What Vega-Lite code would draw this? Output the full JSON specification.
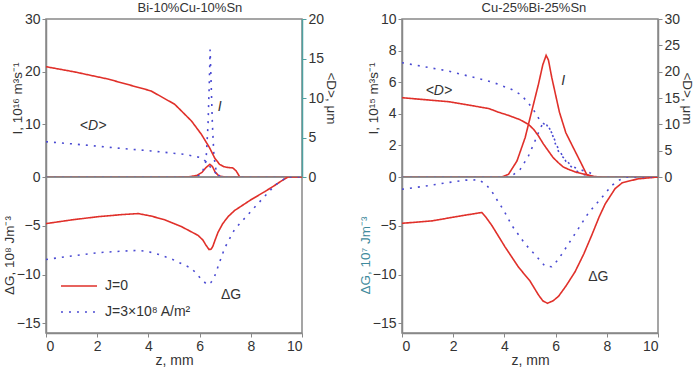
{
  "$schema": "https://vega.github.io/schema/vega-lite/v6.json",
  "padding": {"left": 1, "top": 2, "right": 1, "bottom": 1},
  "datasets": {
    "curves": [
      {"p":"L","q":"I","J":"J=0","z":0,"v":0},{"p":"L","q":"I","J":"J=0","z":5.0,"v":0},{"p":"L","q":"I","J":"J=0","z":5.6,"v":0.05},{"p":"L","q":"I","J":"J=0","z":5.9,"v":0.3},{"p":"L","q":"I","J":"J=0","z":6.1,"v":0.9},{"p":"L","q":"I","J":"J=0","z":6.25,"v":1.8},{"p":"L","q":"I","J":"J=0","z":6.4,"v":2.4},{"p":"L","q":"I","J":"J=0","z":6.5,"v":2.0},{"p":"L","q":"I","J":"J=0","z":6.6,"v":1.0},{"p":"L","q":"I","J":"J=0","z":6.75,"v":0.2},{"p":"L","q":"I","J":"J=0","z":7.0,"v":0},{"p":"L","q":"I","J":"J=0","z":10,"v":0},
      {"p":"L","q":"I","J":"J=3×10⁸ A/m²","z":0,"v":0},{"p":"L","q":"I","J":"J=3×10⁸ A/m²","z":5.9,"v":0},{"p":"L","q":"I","J":"J=3×10⁸ A/m²","z":6.1,"v":0.8},{"p":"L","q":"I","J":"J=3×10⁸ A/m²","z":6.25,"v":3},{"p":"L","q":"I","J":"J=3×10⁸ A/m²","z":6.33,"v":10},{"p":"L","q":"I","J":"J=3×10⁸ A/m²","z":6.38,"v":18},{"p":"L","q":"I","J":"J=3×10⁸ A/m²","z":6.41,"v":24.2},{"p":"L","q":"I","J":"J=3×10⁸ A/m²","z":6.45,"v":18},{"p":"L","q":"I","J":"J=3×10⁸ A/m²","z":6.5,"v":10},{"p":"L","q":"I","J":"J=3×10⁸ A/m²","z":6.56,"v":4},{"p":"L","q":"I","J":"J=3×10⁸ A/m²","z":6.65,"v":1},{"p":"L","q":"I","J":"J=3×10⁸ A/m²","z":6.8,"v":0},{"p":"L","q":"I","J":"J=3×10⁸ A/m²","z":10,"v":0},
      {"p":"L","q":"D","J":"J=0","z":0,"v":13.96},{"p":"L","q":"D","J":"J=0","z":1.12,"v":13.3},{"p":"L","q":"D","J":"J=0","z":2.42,"v":12.4},{"p":"L","q":"D","J":"J=0","z":4.1,"v":10.9},{"p":"L","q":"D","J":"J=0","z":5.03,"v":9.2},{"p":"L","q":"D","J":"J=0","z":5.68,"v":7.1},{"p":"L","q":"D","J":"J=0","z":6.07,"v":5.4},{"p":"L","q":"D","J":"J=0","z":6.39,"v":3.7},{"p":"L","q":"D","J":"J=0","z":6.59,"v":2.4},{"p":"L","q":"D","J":"J=0","z":6.78,"v":1.6},{"p":"L","q":"D","J":"J=0","z":6.95,"v":1.3},{"p":"L","q":"D","J":"J=0","z":7.11,"v":1.2},{"p":"L","q":"D","J":"J=0","z":7.3,"v":1.15},{"p":"L","q":"D","J":"J=0","z":7.43,"v":0.76},{"p":"L","q":"D","J":"J=0","z":7.57,"v":0},
      {"p":"L","q":"D","J":"J=3×10⁸ A/m²","z":0,"v":4.47},{"p":"L","q":"D","J":"J=3×10⁸ A/m²","z":1,"v":4.2},{"p":"L","q":"D","J":"J=3×10⁸ A/m²","z":2,"v":3.9},{"p":"L","q":"D","J":"J=3×10⁸ A/m²","z":3,"v":3.6},{"p":"L","q":"D","J":"J=3×10⁸ A/m²","z":4.1,"v":3.3},{"p":"L","q":"D","J":"J=3×10⁸ A/m²","z":5.4,"v":2.87},{"p":"L","q":"D","J":"J=3×10⁸ A/m²","z":6.07,"v":2.44},{"p":"L","q":"D","J":"J=3×10⁸ A/m²","z":6.3,"v":1.8},{"p":"L","q":"D","J":"J=3×10⁸ A/m²","z":6.5,"v":0.9},{"p":"L","q":"D","J":"J=3×10⁸ A/m²","z":6.7,"v":0.3},{"p":"L","q":"D","J":"J=3×10⁸ A/m²","z":6.9,"v":0},
      {"p":"L","q":"G","J":"J=0","z":0,"v":-4.78},{"p":"L","q":"G","J":"J=0","z":1,"v":-4.4},{"p":"L","q":"G","J":"J=0","z":2.03,"v":-4.07},{"p":"L","q":"G","J":"J=0","z":3,"v":-3.85},{"p":"L","q":"G","J":"J=0","z":3.6,"v":-3.75},{"p":"L","q":"G","J":"J=0","z":4.1,"v":-4.0},{"p":"L","q":"G","J":"J=0","z":4.64,"v":-4.39},{"p":"L","q":"G","J":"J=0","z":5.3,"v":-5.1},{"p":"L","q":"G","J":"J=0","z":5.94,"v":-5.99},{"p":"L","q":"G","J":"J=0","z":6.13,"v":-6.47},{"p":"L","q":"G","J":"J=0","z":6.25,"v":-7.0},{"p":"L","q":"G","J":"J=0","z":6.37,"v":-7.44},{"p":"L","q":"G","J":"J=0","z":6.45,"v":-7.4},{"p":"L","q":"G","J":"J=0","z":6.52,"v":-7.1},{"p":"L","q":"G","J":"J=0","z":6.6,"v":-6.5},{"p":"L","q":"G","J":"J=0","z":6.72,"v":-5.67},{"p":"L","q":"G","J":"J=0","z":6.9,"v":-4.8},{"p":"L","q":"G","J":"J=0","z":7.11,"v":-4.07},{"p":"L","q":"G","J":"J=0","z":7.37,"v":-3.43},{"p":"L","q":"G","J":"J=0","z":8.02,"v":-2.31},{"p":"L","q":"G","J":"J=0","z":8.54,"v":-1.51},{"p":"L","q":"G","J":"J=0","z":8.93,"v":-0.87},{"p":"L","q":"G","J":"J=0","z":9.2,"v":-0.4},{"p":"L","q":"G","J":"J=0","z":9.45,"v":0},{"p":"L","q":"G","J":"J=0","z":10,"v":0},
      {"p":"L","q":"G","J":"J=3×10⁸ A/m²","z":0,"v":-8.46},{"p":"L","q":"G","J":"J=3×10⁸ A/m²","z":1,"v":-8.1},{"p":"L","q":"G","J":"J=3×10⁸ A/m²","z":2.03,"v":-7.76},{"p":"L","q":"G","J":"J=3×10⁸ A/m²","z":3,"v":-7.6},{"p":"L","q":"G","J":"J=3×10⁸ A/m²","z":3.6,"v":-7.53},{"p":"L","q":"G","J":"J=3×10⁸ A/m²","z":4.0,"v":-7.65},{"p":"L","q":"G","J":"J=3×10⁸ A/m²","z":4.37,"v":-7.92},{"p":"L","q":"G","J":"J=3×10⁸ A/m²","z":4.9,"v":-8.4},{"p":"L","q":"G","J":"J=3×10⁸ A/m²","z":5.3,"v":-8.9},{"p":"L","q":"G","J":"J=3×10⁸ A/m²","z":5.68,"v":-9.36},{"p":"L","q":"G","J":"J=3×10⁸ A/m²","z":6.07,"v":-10.48},{"p":"L","q":"G","J":"J=3×10⁸ A/m²","z":6.3,"v":-11.06},{"p":"L","q":"G","J":"J=3×10⁸ A/m²","z":6.45,"v":-10.8},{"p":"L","q":"G","J":"J=3×10⁸ A/m²","z":6.59,"v":-10.16},{"p":"L","q":"G","J":"J=3×10⁸ A/m²","z":6.8,"v":-8.6},{"p":"L","q":"G","J":"J=3×10⁸ A/m²","z":6.98,"v":-7.28},{"p":"L","q":"G","J":"J=3×10⁸ A/m²","z":7.37,"v":-5.36},{"p":"L","q":"G","J":"J=3×10⁸ A/m²","z":7.76,"v":-4.23},{"p":"L","q":"G","J":"J=3×10⁸ A/m²","z":8.15,"v":-3.1},{"p":"L","q":"G","J":"J=3×10⁸ A/m²","z":8.54,"v":-1.99},{"p":"L","q":"G","J":"J=3×10⁸ A/m²","z":8.93,"v":-0.87},{"p":"L","q":"G","J":"J=3×10⁸ A/m²","z":9.2,"v":-0.4},{"p":"L","q":"G","J":"J=3×10⁸ A/m²","z":9.4,"v":0},{"p":"L","q":"G","J":"J=3×10⁸ A/m²","z":10,"v":0},
      {"p":"R","q":"I","J":"J=0","z":0,"v":0},{"p":"R","q":"I","J":"J=0","z":3.9,"v":0},{"p":"R","q":"I","J":"J=0","z":4.16,"v":0.17},{"p":"R","q":"I","J":"J=0","z":4.49,"v":1.01},{"p":"R","q":"I","J":"J=0","z":4.81,"v":2.49},{"p":"R","q":"I","J":"J=0","z":5.07,"v":4.18},{"p":"R","q":"I","J":"J=0","z":5.33,"v":5.87},{"p":"R","q":"I","J":"J=0","z":5.5,"v":7.1},{"p":"R","q":"I","J":"J=0","z":5.63,"v":7.7},{"p":"R","q":"I","J":"J=0","z":5.72,"v":7.4},{"p":"R","q":"I","J":"J=0","z":5.85,"v":6.3},{"p":"R","q":"I","J":"J=0","z":6.15,"v":4.1},{"p":"R","q":"I","J":"J=0","z":6.4,"v":2.8},{"p":"R","q":"I","J":"J=0","z":6.69,"v":1.86},{"p":"R","q":"I","J":"J=0","z":7.02,"v":0.8},{"p":"R","q":"I","J":"J=0","z":7.21,"v":0.17},{"p":"R","q":"I","J":"J=0","z":7.4,"v":0},{"p":"R","q":"I","J":"J=0","z":10,"v":0},
      {"p":"R","q":"I","J":"J=3×10⁸ A/m²","z":0,"v":0},{"p":"R","q":"I","J":"J=3×10⁸ A/m²","z":4.1,"v":0},{"p":"R","q":"I","J":"J=3×10⁸ A/m²","z":4.29,"v":0.06},{"p":"R","q":"I","J":"J=3×10⁸ A/m²","z":4.62,"v":0.49},{"p":"R","q":"I","J":"J=3×10⁸ A/m²","z":4.94,"v":1.33},{"p":"R","q":"I","J":"J=3×10⁸ A/m²","z":5.14,"v":2.07},{"p":"R","q":"I","J":"J=3×10⁸ A/m²","z":5.33,"v":2.8},{"p":"R","q":"I","J":"J=3×10⁸ A/m²","z":5.5,"v":3.4},{"p":"R","q":"I","J":"J=3×10⁸ A/m²","z":5.65,"v":3.3},{"p":"R","q":"I","J":"J=3×10⁸ A/m²","z":5.85,"v":2.8},{"p":"R","q":"I","J":"J=3×10⁸ A/m²","z":6.1,"v":1.8},{"p":"R","q":"I","J":"J=3×10⁸ A/m²","z":6.4,"v":1.0},{"p":"R","q":"I","J":"J=3×10⁸ A/m²","z":6.7,"v":0.5},{"p":"R","q":"I","J":"J=3×10⁸ A/m²","z":7.0,"v":0.2},{"p":"R","q":"I","J":"J=3×10⁸ A/m²","z":7.4,"v":0.05},{"p":"R","q":"I","J":"J=3×10⁸ A/m²","z":7.6,"v":0},{"p":"R","q":"I","J":"J=3×10⁸ A/m²","z":10,"v":0},
      {"p":"R","q":"D","J":"J=0","z":0,"v":15.05},{"p":"R","q":"D","J":"J=0","z":1.83,"v":14.3},{"p":"R","q":"D","J":"J=0","z":3.39,"v":13.0},{"p":"R","q":"D","J":"J=0","z":3.77,"v":12.3},{"p":"R","q":"D","J":"J=0","z":4.16,"v":11.7},{"p":"R","q":"D","J":"J=0","z":4.6,"v":10.9},{"p":"R","q":"D","J":"J=0","z":4.94,"v":10.0},{"p":"R","q":"D","J":"J=0","z":5.15,"v":9.0},{"p":"R","q":"D","J":"J=0","z":5.33,"v":7.8},{"p":"R","q":"D","J":"J=0","z":5.52,"v":6.3},{"p":"R","q":"D","J":"J=0","z":5.72,"v":4.93},{"p":"R","q":"D","J":"J=0","z":5.9,"v":3.7},{"p":"R","q":"D","J":"J=0","z":6.11,"v":2.7},{"p":"R","q":"D","J":"J=0","z":6.3,"v":1.9},{"p":"R","q":"D","J":"J=0","z":6.5,"v":1.46},{"p":"R","q":"D","J":"J=0","z":6.8,"v":0.9},{"p":"R","q":"D","J":"J=0","z":7.15,"v":0.5},{"p":"R","q":"D","J":"J=0","z":7.5,"v":0.1},{"p":"R","q":"D","J":"J=0","z":7.8,"v":0},
      {"p":"R","q":"D","J":"J=3×10⁸ A/m²","z":0,"v":21.7},{"p":"R","q":"D","J":"J=3×10⁸ A/m²","z":1.83,"v":20.1},{"p":"R","q":"D","J":"J=3×10⁸ A/m²","z":3.39,"v":18.2},{"p":"R","q":"D","J":"J=3×10⁸ A/m²","z":3.77,"v":17.6},{"p":"R","q":"D","J":"J=3×10⁸ A/m²","z":4.29,"v":16.6},{"p":"R","q":"D","J":"J=3×10⁸ A/m²","z":4.62,"v":15.7},{"p":"R","q":"D","J":"J=3×10⁸ A/m²","z":4.88,"v":14.4},{"p":"R","q":"D","J":"J=3×10⁸ A/m²","z":5.07,"v":13.2},{"p":"R","q":"D","J":"J=3×10⁸ A/m²","z":5.24,"v":12.0},{"p":"R","q":"D","J":"J=3×10⁸ A/m²","z":5.4,"v":10.6},{"p":"R","q":"D","J":"J=3×10⁸ A/m²","z":5.6,"v":9.9},{"p":"R","q":"D","J":"J=3×10⁸ A/m²","z":5.72,"v":9.6},{"p":"R","q":"D","J":"J=3×10⁸ A/m²","z":5.85,"v":8.4},{"p":"R","q":"D","J":"J=3×10⁸ A/m²","z":6.04,"v":5.6},{"p":"R","q":"D","J":"J=3×10⁸ A/m²","z":6.17,"v":4.3},{"p":"R","q":"D","J":"J=3×10⁸ A/m²","z":6.37,"v":3.4},{"p":"R","q":"D","J":"J=3×10⁸ A/m²","z":6.62,"v":2.1},{"p":"R","q":"D","J":"J=3×10⁸ A/m²","z":6.89,"v":1.5},{"p":"R","q":"D","J":"J=3×10⁸ A/m²","z":7.34,"v":0.8},{"p":"R","q":"D","J":"J=3×10⁸ A/m²","z":7.6,"v":0},
      {"p":"R","q":"G","J":"J=0","z":0,"v":-4.75},{"p":"R","q":"G","J":"J=0","z":1.18,"v":-4.5},{"p":"R","q":"G","J":"J=0","z":2.22,"v":-4.02},{"p":"R","q":"G","J":"J=0","z":3.12,"v":-3.64},{"p":"R","q":"G","J":"J=0","z":3.3,"v":-4.2},{"p":"R","q":"G","J":"J=0","z":3.51,"v":-4.97},{"p":"R","q":"G","J":"J=0","z":4.03,"v":-7.19},{"p":"R","q":"G","J":"J=0","z":4.55,"v":-9.24},{"p":"R","q":"G","J":"J=0","z":5.0,"v":-10.67},{"p":"R","q":"G","J":"J=0","z":5.33,"v":-12.09},{"p":"R","q":"G","J":"J=0","z":5.5,"v":-12.7},{"p":"R","q":"G","J":"J=0","z":5.68,"v":-12.95},{"p":"R","q":"G","J":"J=0","z":5.9,"v":-12.7},{"p":"R","q":"G","J":"J=0","z":6.11,"v":-12.25},{"p":"R","q":"G","J":"J=0","z":6.4,"v":-11.2},{"p":"R","q":"G","J":"J=0","z":6.76,"v":-9.72},{"p":"R","q":"G","J":"J=0","z":7.1,"v":-7.9},{"p":"R","q":"G","J":"J=0","z":7.42,"v":-5.92},{"p":"R","q":"G","J":"J=0","z":7.7,"v":-4.1},{"p":"R","q":"G","J":"J=0","z":7.94,"v":-2.75},{"p":"R","q":"G","J":"J=0","z":8.33,"v":-1.17},{"p":"R","q":"G","J":"J=0","z":8.6,"v":-0.6},{"p":"R","q":"G","J":"J=0","z":9.2,"v":-0.2},{"p":"R","q":"G","J":"J=0","z":10,"v":0},
      {"p":"R","q":"G","J":"J=3×10⁸ A/m²","z":0,"v":-1.26},{"p":"R","q":"G","J":"J=3×10⁸ A/m²","z":0.86,"v":-0.95},{"p":"R","q":"G","J":"J=3×10⁸ A/m²","z":1.63,"v":-0.64},{"p":"R","q":"G","J":"J=3×10⁸ A/m²","z":2.48,"v":-0.32},{"p":"R","q":"G","J":"J=3×10⁸ A/m²","z":3.0,"v":-0.29},{"p":"R","q":"G","J":"J=3×10⁸ A/m²","z":3.28,"v":-0.76},{"p":"R","q":"G","J":"J=3×10⁸ A/m²","z":3.51,"v":-1.49},{"p":"R","q":"G","J":"J=3×10⁸ A/m²","z":3.77,"v":-2.6},{"p":"R","q":"G","J":"J=3×10⁸ A/m²","z":3.97,"v":-3.39},{"p":"R","q":"G","J":"J=3×10⁸ A/m²","z":4.29,"v":-4.97},{"p":"R","q":"G","J":"J=3×10⁸ A/m²","z":4.81,"v":-6.87},{"p":"R","q":"G","J":"J=3×10⁸ A/m²","z":5.2,"v":-7.98},{"p":"R","q":"G","J":"J=3×10⁸ A/m²","z":5.59,"v":-9.15},{"p":"R","q":"G","J":"J=3×10⁸ A/m²","z":5.85,"v":-9.2},{"p":"R","q":"G","J":"J=3×10⁸ A/m²","z":6.11,"v":-8.45},{"p":"R","q":"G","J":"J=3×10⁸ A/m²","z":6.5,"v":-6.87},{"p":"R","q":"G","J":"J=3×10⁸ A/m²","z":6.89,"v":-5.29},{"p":"R","q":"G","J":"J=3×10⁸ A/m²","z":7.28,"v":-3.7},{"p":"R","q":"G","J":"J=3×10⁸ A/m²","z":7.8,"v":-2.12},{"p":"R","q":"G","J":"J=3×10⁸ A/m²","z":8.2,"v":-0.85},{"p":"R","q":"G","J":"J=3×10⁸ A/m²","z":8.5,"v":-0.3},{"p":"R","q":"G","J":"J=3×10⁸ A/m²","z":8.8,"v":0},{"p":"R","q":"G","J":"J=3×10⁸ A/m²","z":10,"v":0}
    ],
    "labels": [
      {"p":"L","q":"I","z":1.84,"v":9.7,"t":"<D>"},
      {"p":"L","q":"I","z":6.78,"v":13.2,"t":"I"},
      {"p":"L","q":"G","z":7.23,"v":-12.1,"t":"ΔG"},
      {"p":"R","q":"I","z":1.44,"v":5.44,"t":"<D>"},
      {"p":"R","q":"I","z":6.3,"v":6.08,"t":"I"},
      {"p":"R","q":"G","z":7.67,"v":-10.3,"t":"ΔG"}
    ]
  },
  "hconcat": [
    {
      "title": {"text": "Bi-10%Cu-10%Sn", "anchor": "middle", "dx": 20},
      "spacing": 0,
      "bounds": "flush",
      "resolve": {"legend": {"color": "independent", "strokeDash": "independent"}},
      "vconcat": [
        {
          "width": 256, "height": 158,
          "resolve": {"scale": {"y": "independent"}},
          "layer": [
            {
              "layer": [
                {
                  "data": {"name": "curves"},
                  "transform": [{"filter": "datum.p == 'L' && datum.q == 'I'"}],
                  "mark": {"type": "line", "strokeWidth": 1.6, "clip": true},
                  "encoding": {
                    "x": {"field": "z", "type": "quantitative", "scale": {"domain": [0, 10]}, "axis": null},
                    "y": {"field": "v", "type": "quantitative", "scale": {"domain": [0, 30]}, "axis": {"values": [0, 10, 20, 30], "title": "I, 10¹⁶ m³s⁻¹"}},
                    "color": {"field": "J", "type": "nominal", "scale": {"domain": ["J=0", "J=3×10⁸ A/m²"], "range": ["#e0302a", "#4a4ad2"]}, "legend": null},
                    "strokeDash": {"field": "J", "type": "nominal", "scale": {"domain": ["J=0", "J=3×10⁸ A/m²"], "range": [[1, 0], [2, 6]]}, "legend": null}
                  }
                },
                {
                  "data": {"name": "labels"},
                  "transform": [{"filter": "datum.p == 'L' && datum.q == 'I'"}],
                  "mark": {"type": "text", "fontSize": 14, "fontStyle": "italic", "color": "#333"},
                  "encoding": {
                    "x": {"field": "z", "type": "quantitative"},
                    "y": {"field": "v", "type": "quantitative"},
                    "text": {"field": "t"}
                  }
                }
              ]
            },
            {
              "data": {"name": "curves"},
              "transform": [{"filter": "datum.p == 'L' && datum.q == 'D'"}],
              "mark": {"type": "line", "strokeWidth": 1.6, "clip": true},
              "encoding": {
                "x": {"field": "z", "type": "quantitative"},
                "y": {"field": "v", "type": "quantitative", "scale": {"domain": [0, 20]}, "axis": {"orient": "right", "values": [0, 5, 10, 15, 20], "title": "<D>, μm", "domainColor": "#4fa0a0", "tickColor": "#4fa0a0"}},
                "color": {"field": "J", "type": "nominal", "scale": {"domain": ["J=0", "J=3×10⁸ A/m²"], "range": ["#e0302a", "#4a4ad2"]}, "legend": null},
                "strokeDash": {"field": "J", "type": "nominal", "scale": {"domain": ["J=0", "J=3×10⁸ A/m²"], "range": [[1, 0], [2, 6]]}, "legend": null}
              }
            }
          ]
        },
        {
          "width": 256, "height": 156,
          "layer": [
            {
              "data": {"name": "curves"},
              "transform": [{"filter": "datum.p == 'L' && datum.q == 'G'"}],
              "mark": {"type": "line", "strokeWidth": 1.6, "clip": true},
              "encoding": {
                "x": {"field": "z", "type": "quantitative", "scale": {"domain": [0, 10]}, "axis": {"values": [0, 2, 4, 6, 8, 10], "title": "z, mm", "titleFontSize": 14}},
                "y": {"field": "v", "type": "quantitative", "scale": {"domain": [-15, 0]}, "axis": {"values": [-15, -10, -5], "title": "ΔG, 10⁸ Jm⁻³"}},
                "color": {"field": "J", "type": "nominal", "scale": {"domain": ["J=0", "J=3×10⁸ A/m²"], "range": ["#e0302a", "#4a4ad2"]}, "legend": {"orient": "bottom-left", "title": null, "offset": 14, "labelFontSize": 14, "labelColor": "#333", "symbolType": "stroke", "symbolSize": 1300, "symbolStrokeWidth": 1.6, "rowPadding": -12, "labelOffset": 7}},
                "strokeDash": {"field": "J", "type": "nominal", "scale": {"domain": ["J=0", "J=3×10⁸ A/m²"], "range": [[1, 0], [2, 6]]}, "legend": {"orient": "bottom-left", "title": null, "offset": 14, "labelFontSize": 14, "labelColor": "#333", "symbolType": "stroke", "symbolSize": 1300, "symbolStrokeWidth": 1.6, "rowPadding": -12, "labelOffset": 7}}
              }
            },
            {
              "data": {"name": "labels"},
              "transform": [{"filter": "datum.p == 'L' && datum.q == 'G'"}],
              "mark": {"type": "text", "fontSize": 14, "color": "#333"},
              "encoding": {
                "x": {"field": "z", "type": "quantitative"},
                "y": {"field": "v", "type": "quantitative"},
                "text": {"field": "t"}
              }
            }
          ]
        }
      ]
    },
    {
      "title": {"text": "Cu-25%Bi-25%Sn", "anchor": "middle", "dx": 8},
      "spacing": 0,
      "bounds": "flush",
      "resolve": {"legend": {"color": "independent", "strokeDash": "independent"}},
      "vconcat": [
        {
          "width": 256, "height": 158,
          "resolve": {"scale": {"y": "independent"}},
          "layer": [
            {
              "layer": [
                {
                  "data": {"name": "curves"},
                  "transform": [{"filter": "datum.p == 'R' && datum.q == 'I'"}],
                  "mark": {"type": "line", "strokeWidth": 1.6, "clip": true},
                  "encoding": {
                    "x": {"field": "z", "type": "quantitative", "scale": {"domain": [0, 10]}, "axis": null},
                    "y": {"field": "v", "type": "quantitative", "scale": {"domain": [0, 10]}, "axis": {"values": [0, 2, 4, 6, 8, 10], "tickCount": 6, "labelOverlap": false, "title": "I, 10¹⁵ m³s⁻¹"}},
                    "color": {"field": "J", "type": "nominal", "scale": {"domain": ["J=0", "J=3×10⁸ A/m²"], "range": ["#e0302a", "#4a4ad2"]}, "legend": null},
                    "strokeDash": {"field": "J", "type": "nominal", "scale": {"domain": ["J=0", "J=3×10⁸ A/m²"], "range": [[1, 0], [2, 6]]}, "legend": null}
                  }
                },
                {
                  "data": {"name": "labels"},
                  "transform": [{"filter": "datum.p == 'R' && datum.q == 'I'"}],
                  "mark": {"type": "text", "fontSize": 14, "fontStyle": "italic", "color": "#333"},
                  "encoding": {
                    "x": {"field": "z", "type": "quantitative"},
                    "y": {"field": "v", "type": "quantitative", "axis": {"values": [0, 2, 4, 6, 8, 10], "tickCount": 6, "labelOverlap": false, "title": "I, 10¹⁵ m³s⁻¹"}},
                    "text": {"field": "t"}
                  }
                }
              ]
            },
            {
              "data": {"name": "curves"},
              "transform": [{"filter": "datum.p == 'R' && datum.q == 'D'"}],
              "mark": {"type": "line", "strokeWidth": 1.6, "clip": true},
              "encoding": {
                "x": {"field": "z", "type": "quantitative"},
                "y": {"field": "v", "type": "quantitative", "scale": {"domain": [0, 30]}, "axis": {"orient": "right", "values": [0, 5, 10, 15, 20, 25, 30], "labelOverlap": false, "title": "<D>, μm"}},
                "color": {"field": "J", "type": "nominal", "scale": {"domain": ["J=0", "J=3×10⁸ A/m²"], "range": ["#e0302a", "#4a4ad2"]}, "legend": null},
                "strokeDash": {"field": "J", "type": "nominal", "scale": {"domain": ["J=0", "J=3×10⁸ A/m²"], "range": [[1, 0], [2, 6]]}, "legend": null}
              }
            }
          ]
        },
        {
          "width": 256, "height": 156,
          "layer": [
            {
              "data": {"name": "curves"},
              "transform": [{"filter": "datum.p == 'R' && datum.q == 'G'"}],
              "mark": {"type": "line", "strokeWidth": 1.6, "clip": true},
              "encoding": {
                "x": {"field": "z", "type": "quantitative", "scale": {"domain": [0, 10]}, "axis": {"values": [0, 2, 4, 6, 8, 10], "title": "z, mm", "titleFontSize": 14}},
                "y": {"field": "v", "type": "quantitative", "scale": {"domain": [-15, 0]}, "axis": {"values": [-15, -10, -5], "title": "ΔG, 10⁷ Jm⁻³", "titleColor": "#3f8a9c"}},
                "color": {"field": "J", "type": "nominal", "scale": {"domain": ["J=0", "J=3×10⁸ A/m²"], "range": ["#e0302a", "#4a4ad2"]}, "legend": null},
                "strokeDash": {"field": "J", "type": "nominal", "scale": {"domain": ["J=0", "J=3×10⁸ A/m²"], "range": [[1, 0], [2, 6]]}, "legend": null}
              }
            },
            {
              "data": {"name": "labels"},
              "transform": [{"filter": "datum.p == 'R' && datum.q == 'G'"}],
              "mark": {"type": "text", "fontSize": 14, "color": "#333"},
              "encoding": {
                "x": {"field": "z", "type": "quantitative"},
                "y": {"field": "v", "type": "quantitative"},
                "text": {"field": "t"}
              }
            }
          ]
        }
      ]
    }
  ],
  "spacing": 18,
  "resolve": {"legend": {"color": "independent", "strokeDash": "independent"}},
  "config": {
    "font": "Liberation Sans",
    "view": {"stroke": "#888", "strokeWidth": 1.5},
    "axis": {"grid": false, "labelOverlap": false, "domainColor": "#888", "domainWidth": 1.5, "tickColor": "#888", "tickSize": 4, "labelFontSize": 14, "labelColor": "#333", "titleFontSize": 13.5, "titleFontWeight": "normal", "titleColor": "#333", "titlePadding": 0, "labelPadding": 2},
    "title": {"fontSize": 13, "fontWeight": "normal", "color": "#333", "offset": -4}
  }
}
